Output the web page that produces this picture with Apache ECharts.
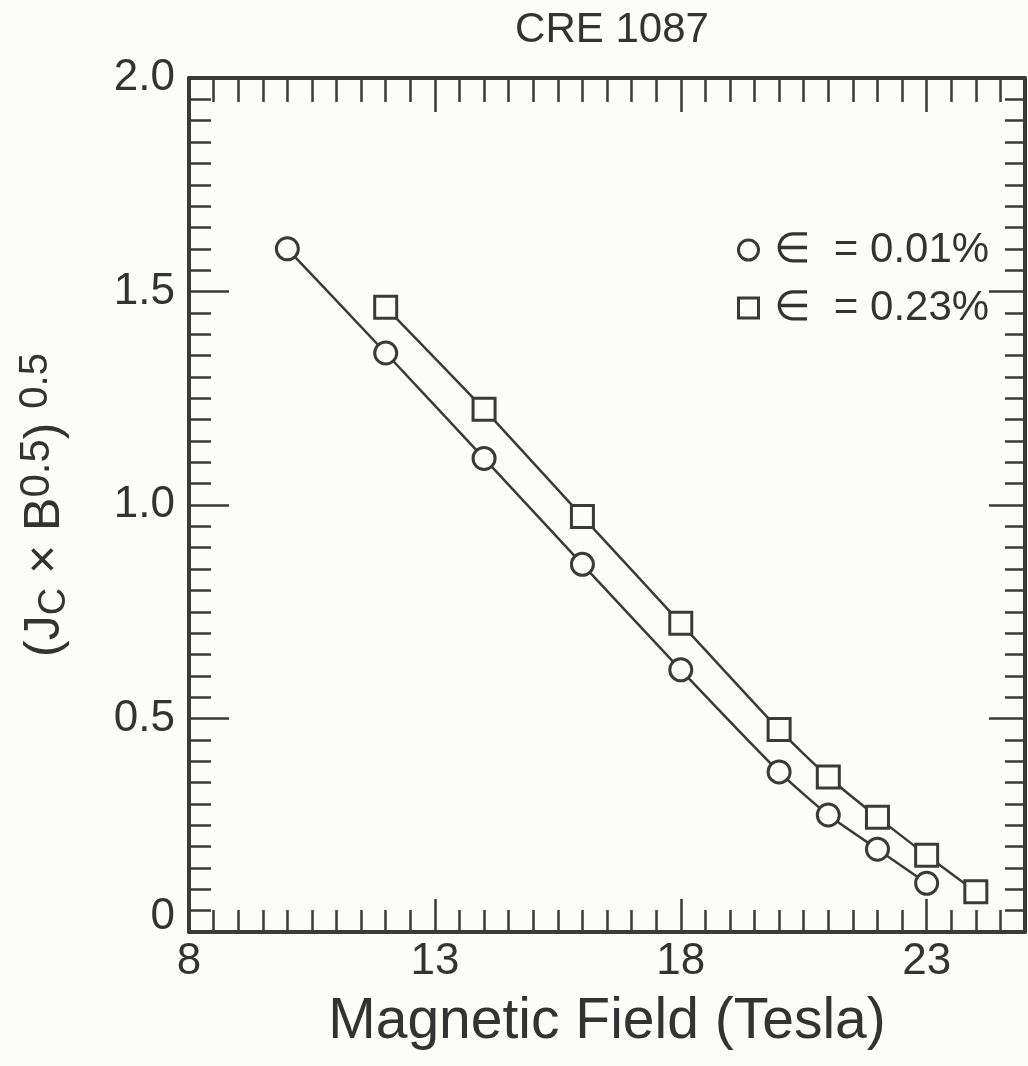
<!DOCTYPE html>
<html>
<head>
<meta charset="utf-8">
<title>CRE 1087</title>
<script src="https://cdn.jsdelivr.net/npm/echarts@6/dist/echarts.min.js"></script>
<style>
  html, body { margin: 0; padding: 0; background: #fcfcf8; }
  #chart { width: 1028px; height: 1066px; }
</style>
</head>
<body>
<div id="chart"></div>
<script>
// Magnetic field (Tesla) and (Jc x B^0.5)^0.5 for two strain levels
const fieldLow = [10, 12, 14, 16, 18, 20, 21, 22, 23];
const valuesLow = [1.60, 1.356, 1.109, 0.861, 0.614, 0.375, 0.274, 0.194, 0.114];
const fieldHigh = [12, 14, 16, 18, 20, 21, 22, 23, 24];
const valuesHigh = [1.463, 1.224, 0.973, 0.723, 0.474, 0.363, 0.269, 0.180, 0.094];
const seriesNames = ['\u2208  = 0.01%', '\u2208  = 0.23%'];
const xLabelTicks = [8, 13, 18, 23];

const BG = '#fcfcf8';
const INK = '#3a3a3a';
const TEXT = '#333333';
const FONT = '"Liberation Sans", Arial, Helvetica, sans-serif';

const pairs = (xs, ys) => xs.map((x, i) => [x, ys[i]]);
const tickStyle = { color: INK, width: 2.5 };
const frameLine = { show: true, onZero: false, lineStyle: { color: INK, width: 4 } };

// Two identical grids: the first carries the data, the frame and the major
// ticks; the second only carries the half-tesla ticks along top and bottom.
const gridBox = { left: 189, right: 3, top: 78, bottom: 134, containLabel: false };

const xBase = { type: 'value', min: 8, max: 25,
  splitLine: { show: false }, axisLine: { show: false }, axisLabel: { show: false } };

const chart = echarts.init(document.getElementById('chart'));
chart.setOption({
  backgroundColor: BG,
  animation: false,
  title: {
    text: 'CRE 1087',
    left: 607, top: 4, textAlign: 'center',
    textStyle: { fontFamily: FONT, fontWeight: 'normal', fontSize: 42, color: TEXT }
  },
  grid: [Object.assign({}, gridBox), Object.assign({}, gridBox)],
  legend: {
    orient: 'vertical',
    left: 732, top: 224,
    itemWidth: 20, itemHeight: 20, itemGap: 16,
    data: [
      { name: seriesNames[0], icon: 'circle' },
      { name: seriesNames[1], icon: 'rect' }
    ],
    itemStyle: { color: BG, borderColor: INK, borderWidth: 3 },
    textStyle: { fontFamily: FONT, fontSize: 42, color: TEXT, lineHeight: 42, padding: [0, 0, 0, 10] }
  },
  xAxis: [
    Object.assign({}, xBase, {
      gridIndex: 0, position: 'bottom', interval: 5,
      axisLine: frameLine,
      axisTick: { show: true, inside: true, length: 33, lineStyle: tickStyle },
      axisLabel: {
        show: true, margin: 8, fontFamily: FONT, fontSize: 44, color: TEXT,
        formatter: v => (xLabelTicks.indexOf(v) >= 0 ? String(v) : '')
      },
      name: 'Magnetic Field (Tesla)', nameLocation: 'middle', nameGap: 62,
      nameTextStyle: { fontFamily: FONT, fontSize: 57, color: TEXT }
    }),
    Object.assign({}, xBase, {
      gridIndex: 0, position: 'top', interval: 5,
      axisLine: frameLine,
      axisTick: { show: true, inside: true, length: 34, lineStyle: tickStyle }
    }),
    Object.assign({}, xBase, {
      gridIndex: 1, position: 'bottom', interval: 0.5,
      axisTick: { show: true, inside: true, length: 22, lineStyle: tickStyle }
    }),
    Object.assign({}, xBase, {
      gridIndex: 1, position: 'top', interval: 0.5,
      axisTick: { show: true, inside: true, length: 24, lineStyle: tickStyle }
    })
  ],
  yAxis: [
    {
      type: 'value', gridIndex: 0, position: 'left', min: 0, max: 2, interval: 0.5,
      splitLine: { show: false },
      axisLine: frameLine,
      axisTick: { show: true, inside: true, length: 40, lineStyle: tickStyle },
      minorTick: { show: true, splitNumber: 10, length: 22, lineStyle: tickStyle },
      axisLabel: {
        margin: 14, fontFamily: FONT, fontSize: 44, color: TEXT,
        formatter: v => (v === 0 ? '{z|0}' : v.toFixed(1)),
        rich: { z: { fontFamily: FONT, fontSize: 44, color: TEXT, padding: [0, 0, 30, 0] } }
      },
      name: '{p|(J}{sub|C}{p| \u00d7 B}{sup|0.5}{p|) }{tail|0.5}',
      nameLocation: 'middle', nameRotate: 90, nameGap: 115,
      nameTextStyle: {
        fontFamily: FONT, color: TEXT,
        rich: {
          p: { fontFamily: FONT, fontSize: 50, color: TEXT, lineHeight: 58 },
          sub: { fontFamily: FONT, fontSize: 38, color: TEXT, lineHeight: 24, verticalAlign: 'bottom' },
          sup: { fontFamily: FONT, fontSize: 42, color: TEXT, lineHeight: 18, verticalAlign: 'top' },
          tail: { fontFamily: FONT, fontSize: 40, color: TEXT, lineHeight: 34, verticalAlign: 'top' }
        }
      }
    },
    {
      type: 'value', gridIndex: 0, position: 'right', min: 0, max: 2, interval: 0.5,
      splitLine: { show: false },
      axisLine: frameLine,
      axisTick: { show: true, inside: true, length: 36, lineStyle: tickStyle },
      minorTick: { show: true, splitNumber: 10, length: 20, lineStyle: tickStyle },
      axisLabel: { show: false }
    },
    {
      type: 'value', gridIndex: 1, min: 0, max: 2, show: false
    }
  ],
  series: [
    {
      name: seriesNames[0], type: 'line', xAxisIndex: 0, yAxisIndex: 0,
      data: pairs(fieldLow, valuesLow),
      smooth: 0.2,
      symbol: 'circle', symbolSize: 22, showAllSymbol: true,
      lineStyle: { color: INK, width: 2.5 },
      itemStyle: { color: BG, borderColor: INK, borderWidth: 3 },
      z: 3
    },
    {
      name: seriesNames[1], type: 'line', xAxisIndex: 0, yAxisIndex: 0,
      data: pairs(fieldHigh, valuesHigh),
      smooth: 0.2,
      symbol: 'rect', symbolSize: 22, showAllSymbol: true,
      lineStyle: { color: INK, width: 2.5 },
      itemStyle: { color: BG, borderColor: INK, borderWidth: 3 },
      z: 3
    }
  ]
});
</script>
</body>
</html>
